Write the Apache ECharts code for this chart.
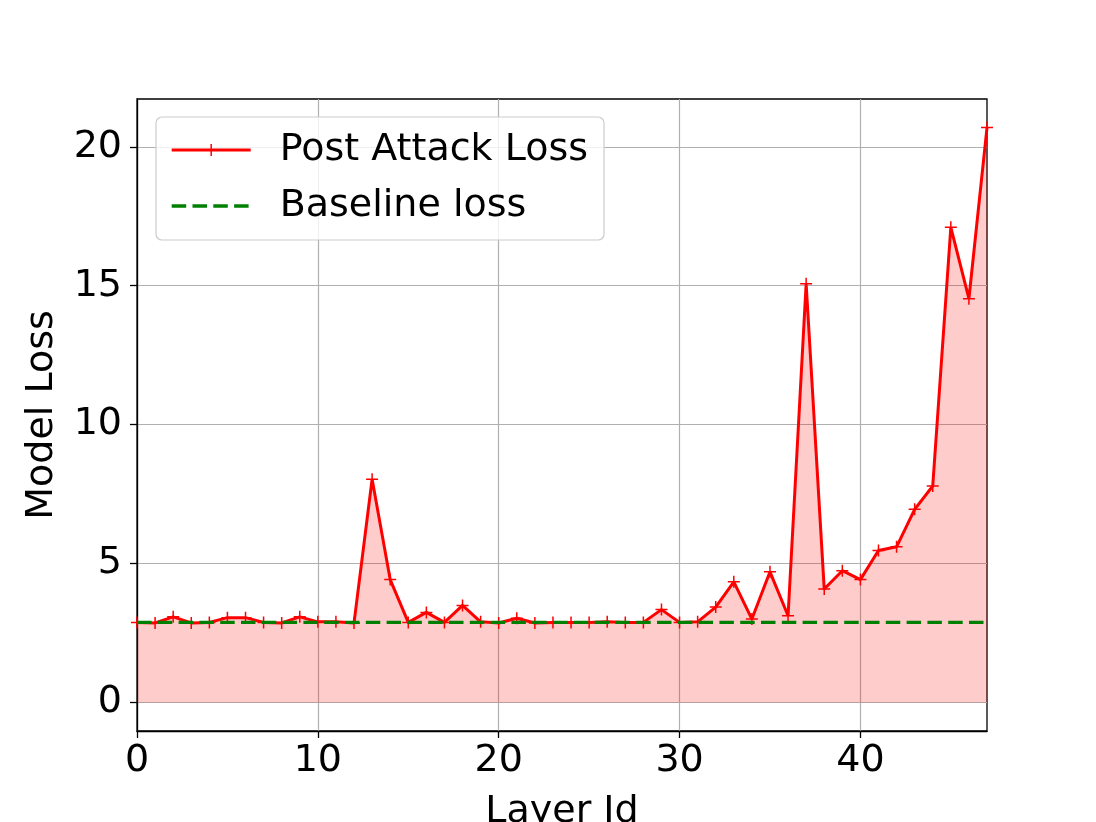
<!DOCTYPE html>
<html>
<head>
<meta charset="utf-8">
<script src="https://cdn.jsdelivr.net/npm/echarts@6/dist/echarts.min.js"></script>
<style>
html,body{margin:0;padding:0;background:#fff;}
#chart{width:1096px;height:822px;}
</style>
</head>
<body>
<div id="chart"></div>
<script>
const layerIds = [0,1,2,3,4,5,6,7,8,9,10,11,12,13,14,15,16,17,18,19,20,21,22,23,24,25,26,27,28,29,30,31,32,33,34,35,36,37,38,39,40,41,42,43,44,45,46,47];
const postAttackLoss = [2.88,2.86,3.08,2.86,2.88,3.05,3.05,2.88,2.86,3.08,2.90,2.90,2.86,8.03,4.42,2.88,3.24,2.88,3.49,2.90,2.86,3.03,2.86,2.88,2.88,2.88,2.90,2.88,2.88,3.34,2.88,2.90,3.43,4.34,3.00,4.70,3.12,15.07,4.08,4.74,4.42,5.47,5.60,6.95,7.79,17.10,14.53,20.69];
const baselineLoss = 2.88;
const xTicks = [0,10,20,30,40];
const yTicks = [0,5,10,15,20];
const seriesNames = ['Post Attack Loss','Baseline loss'];
const axisNames = {x:'Layer Id', y:'Model Loss'};

const FONT = 'DejaVu Sans';
const FS = 38;
const chart = echarts.init(document.getElementById('chart'), null, {renderer:'canvas'});
const lossData = layerIds.map((x,i)=>[x, postAttackLoss[i]]);
const baseData = [[layerIds[0], baselineLoss],[layerIds[layerIds.length-1], baselineLoss]];

chart.setOption({
  animation:false,
  backgroundColor:'#ffffff',
  grid:{left:137, top:99, right:109, bottom:91, show:true, borderColor:'#000', borderWidth:1.3, containLabel:false, outerBoundsMode:'none'},
  legend:{
    orient:'vertical', left:156, top:117,
    selectedMode:false,
    itemWidth:79, itemHeight:15, itemGap:12,
    padding:[11,16,12,14],
    backgroundColor:'rgba(255,255,255,0.8)',
    borderColor:'#cccccc', borderWidth:1.2, borderRadius:6,
    textStyle:{fontFamily:FONT, fontSize:FS, color:'#000', lineHeight:44, padding:[0,0,0,24]},
    data:[
      {name:seriesNames[0], itemStyle:{color:'#ff0000', borderColor:'#ff0000', borderWidth:1.5}, lineStyle:{width:3, color:'#ff0000'}},
      {name:seriesNames[1], itemStyle:{opacity:0}, lineStyle:{width:3.4, color:'#008000', type:[14.5,6.3]}}
    ]
  },
  xAxis:{
    type:'value', min:0, max:47,
    name:axisNames.x, nameLocation:'middle', nameGap:62,
    nameTextStyle:{fontFamily:FONT, fontSize:FS, color:'#000'},
    axisLine:{show:true, onZero:false, lineStyle:{color:'#000', width:1.3}},
    axisTick:{show:true, length:7, lineStyle:{color:'#000', width:1.3}, customValues:xTicks},
    axisLabel:{fontFamily:FONT, fontSize:FS, color:'#000', margin:11, customValues:xTicks},
    splitLine:{show:true, lineStyle:{color:'#b0b0b0', width:1.2}}
  },
  yAxis:{
    type:'value', min:-1.03, max:21.72,
    name:axisNames.y, nameLocation:'middle', nameGap:76, nameRotate:90,
    nameTextStyle:{fontFamily:FONT, fontSize:FS, color:'#000'},
    axisLine:{show:true, onZero:false, lineStyle:{color:'#000', width:1.3}},
    axisTick:{show:true, length:7, lineStyle:{color:'#000', width:1.3}, customValues:yTicks},
    axisLabel:{fontFamily:FONT, fontSize:FS, color:'#000', margin:15, customValues:yTicks},
    splitLine:{show:true, lineStyle:{color:'#b0b0b0', width:1.2}}
  },
  series:[
    {
      name:seriesNames[0], type:'line', data:lossData,
      symbol:'path://M5,0L5,10M0,5L10,5', symbolSize:12, showSymbol:true,
      itemStyle:{color:'#ff0000', borderColor:'#ff0000', borderWidth:1.5},
      lineStyle:{color:'#ff0000', width:3},
      areaStyle:{color:'rgba(255,0,0,0.2)', opacity:1, origin:'auto'},
      z:2
    },
    {
      name:seriesNames[1], type:'line', data:baseData,
      symbol:'none', showSymbol:false,
      itemStyle:{color:'#008000'},
      lineStyle:{color:'#008000', width:3.4, type:[14.5,6.3]},
      z:3
    }
  ]
});
</script>
</body>
</html>
